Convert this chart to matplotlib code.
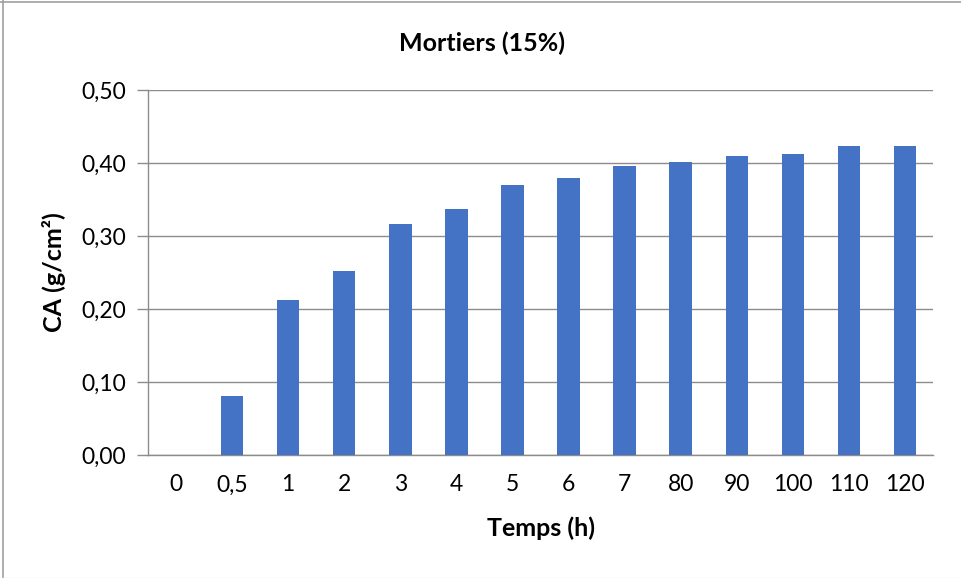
import matplotlib
matplotlib.use("Agg")
import matplotlib.pyplot as plt
from matplotlib.lines import Line2D
from matplotlib.ticker import FuncFormatter, MultipleLocator

# Capillary absorption of mortars (15%) versus time
temps = ["0", "0,5", "1", "2", "3", "4", "5", "6", "7", "80", "90", "100", "110", "120"]
ca = [0.0, 0.081, 0.212, 0.252, 0.317, 0.337, 0.370, 0.380, 0.396, 0.401, 0.410, 0.412, 0.423, 0.423]

plt.rcParams["font.family"] = ["Lato", "DejaVu Sans"]

W, H = 961, 578
fig = plt.figure(figsize=(W / 100, H / 100), dpi=100)
fig.patch.set_facecolor("white")

# outer frame lines (top, left, faint bottom)
tf = fig.transFigure
fig.add_artist(Line2D([0, 1], [1 - 1.5 / H, 1 - 1.5 / H], transform=tf,
                      color="#a0a0a0", linewidth=1.2))
fig.add_artist(Line2D([2.5 / W, 2.5 / W], [0, 1], transform=tf,
                      color="#a0a0a0", linewidth=1.2))
fig.add_artist(Line2D([0, 1], [0.5 / H, 0.5 / H], transform=tf,
                      color="#e6e6e6", linewidth=1.0))

left, right, top, bottom = 148, 933, 90, 455
ax = fig.add_axes([left / W, (H - bottom) / H, (right - left) / W, (bottom - top) / H])

x = range(len(temps))
ax.bar(x, ca, width=0.4, color="#4472C4", zorder=3)

ax.set_xlim(-0.5, len(temps) - 0.5)
ax.set_ylim(0, 0.5)
ax.yaxis.set_major_locator(MultipleLocator(0.1))
ax.yaxis.set_major_formatter(FuncFormatter(lambda v, p: f"{v:.2f}".replace(".", ",")))
ax.set_xticks(list(x))
ax.set_xticklabels(temps)

grid_col = "#8c8c8c"
ax.grid(axis="y", color=grid_col, linewidth=1.0, zorder=0)
for s in ["top", "right"]:
    ax.spines[s].set_visible(False)
ax.spines["left"].set_color(grid_col)
ax.spines["bottom"].set_color(grid_col)
ax.spines["left"].set_linewidth(1.0)
ax.spines["bottom"].set_linewidth(1.0)

ax.tick_params(axis="y", length=8, width=1.0, color=grid_col, pad=8,
               labelsize=16.5, labelcolor="#000000")
ax.tick_params(axis="x", length=0, pad=14, labelsize=16.5, labelcolor="#000000")

fig.text(482 / W, 1 - 43 / H, "Mortiers (15%)", ha="center", va="center",
         fontsize=18, fontweight="bold")
fig.text(541 / W, 1 - 528 / H, "Temps (h)", ha="center", va="center",
         fontsize=18, fontweight="bold")
fig.text(54 / W, 1 - 272 / H, "CA (g/cm²)", ha="center", va="center",
         rotation=90, fontsize=18, fontweight="bold")

fig.savefig("out.png", dpi=100)
